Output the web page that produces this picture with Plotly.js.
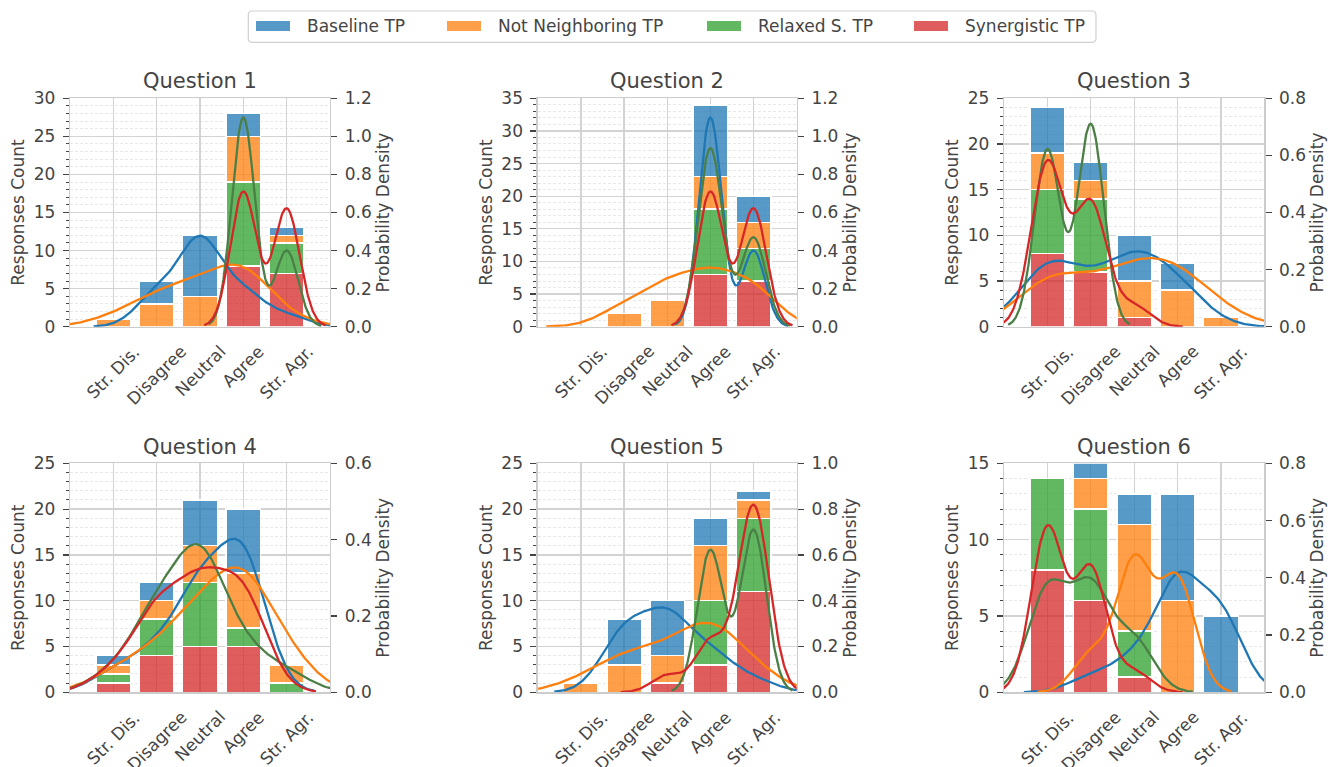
<!DOCTYPE html>
<html><head><meta charset="utf-8">
<script src="https://cdn.plot.ly/plotly-3.0.1.min.js"></script>
<style>html,body{margin:0;padding:0;background:#fff}#chart{width:1341px;height:767px}</style>
</head><body><div id="chart"></div>
<script>
// ---------------- data ----------------
const categories = ['Str. Dis.', 'Disagree', 'Neutral', 'Agree', 'Str. Agr.'];
const questionTitles = ['Question 1', 'Question 2', 'Question 3', 'Question 4', 'Question 5', 'Question 6'];
const seriesNames = ['Baseline TP', 'Not Neighboring TP', 'Relaxed S. TP', 'Synergistic TP'];
// response counts per category (Str. Dis. .. Str. Agr.), one row per question
const baselineTP       = [[0,3,8,3,1],[0,0,0,11,4],[5,2,5,3,0],[1,2,5,7,0],[0,5,6,3,1],[0,1,2,7,5]];
const notNeighboringTP = [[1,3,4,6,1],[0,2,4,5,4],[4,2,4,4,1],[1,2,4,6,2],[1,3,3,6,2],[0,2,7,6,0]];
const relaxedSTP       = [[0,0,0,11,4],[0,0,0,10,5],[7,8,0,0,0],[1,4,7,2,1],[0,0,0,7,8],[6,6,3,0,0]];
const synergisticTP    = [[0,0,0,8,7],[0,0,0,8,7],[8,6,1,0,0],[1,4,5,5,0],[0,0,1,3,11],[8,6,1,0,0]];
const countAxisMax   = [30, 35, 25, 25, 25, 15];
const densityAxisMax = [1.2, 1.2, 0.8, 0.6, 1.0, 0.8];

// ---------------- style / layout constants ----------------
const W = 1341, H = 767;
const FONT = 'DejaVu Sans, sans-serif';
const TXT = '#444444';
const barColors  = ['rgba(31,119,180,0.75)', 'rgba(255,127,14,0.75)', 'rgba(44,160,44,0.75)', 'rgba(214,39,40,0.75)'];
const lineColors = ['#1f77b4', '#ff7f0e', '#4c7f46', '#d62728'];
const colLeft  = [70, 537.7, 1004];
const colRight = [330, 796.7, 1264.3];
const rowTop    = [98.3, 463.3];
const rowBottom = [326.7, 692.3];
const titleCenterY = [80.7, 446.7];
const groups = [baselineTP, notNeighboringTP, relaxedSTP, synergisticTP];

// Gaussian KDE (Scott's rule, cut = 3) of the responses of one group
function kde(counts) {
  const pts = [];
  counts.forEach((c, i) => { for (let k = 0; k < c; k++) pts.push(i); });
  const n = pts.length;
  const mean = pts.reduce((a, b) => a + b, 0) / n;
  const v = pts.reduce((a, b) => a + (b - mean) * (b - mean), 0) / (n - 1);
  const bw = Math.sqrt(v) * Math.pow(n, -0.2);
  const lo = Math.min(...pts) - 3 * bw, hi = Math.max(...pts) + 3 * bw;
  const xs = [], ys = [];
  for (let j = 0; j < 200; j++) {
    const x = lo + (hi - lo) * j / 199;
    let s = 0;
    for (const p of pts) s += Math.exp(-0.5 * ((x - p) / bw) ** 2);
    xs.push(x); ys.push(s / (n * bw * Math.sqrt(2 * Math.PI)));
  }
  return { xs, ys };
}

const traces = [];
const layout = {
  width: W, height: H, margin: { l: 0, r: 0, t: 0, b: 0, autoexpand: false },
  paper_bgcolor: '#fff', plot_bgcolor: '#fff',
  barmode: 'stack', showlegend: false,
  font: { family: FONT, color: TXT, size: 17 },
  annotations: [], shapes: []
};
const xIdx = categories.map((_, i) => i);

for (let q = 0; q < 6; q++) {
  const row = Math.floor(q / 3), col = q % 3;
  const s = q === 0 ? '' : String(q + 1);
  const s2 = String(q + 7);
  const xa = 'x' + s, ya = 'y' + s, ya2 = 'y' + s2;

  // stacked bars: Synergistic bottom ... Baseline top
  for (let g = 3; g >= 0; g--) {
    traces.push({
      type: 'bar', x: xIdx, y: groups[g][q], name: seriesNames[g],
      xaxis: xa, yaxis: ya, width: 0.8,
      marker: { color: barColors[g], line: { color: '#ffffff', width: 1.5 } },
      showlegend: false, hoverinfo: 'skip'
    });
  }
  // KDE lines
  for (let g = 0; g < 4; g++) {
    const k = kde(groups[g][q]);
    traces.push({
      type: 'scatter', mode: 'lines', x: k.xs, y: k.ys, name: seriesNames[g],
      xaxis: xa, yaxis: ya2, line: { color: lineColors[g], width: 2.3 },
      showlegend: false, hoverinfo: 'skip'
    });
  }

  const xd = [colLeft[col] / W, colRight[col] / W];
  const yd = [1 - rowBottom[row] / H, 1 - rowTop[row] / H];
  layout['xaxis' + s] = {
    domain: xd, anchor: ya, range: [-1, 5], tickvals: xIdx, showticklabels: false, ticks: '',
    showgrid: true, gridcolor: '#d3d3d3', gridwidth: 1.3,
    showline: true, linecolor: '#cccccc', linewidth: 1.3, mirror: true, zeroline: false, fixedrange: true
  };
  layout['yaxis' + s] = {
    domain: yd, anchor: xa, range: [0, countAxisMax[q]], tick0: 0, dtick: 5,
    ticks: 'outside', ticklen: 6, tickwidth: 1.2, tickcolor: TXT, ticklabelstandoff: 4,
    tickfont: { size: 17, color: TXT },
    showgrid: true, gridcolor: '#d3d3d3', gridwidth: 1.3,
    showline: true, linecolor: '#cccccc', linewidth: 1.3, zeroline: false,
    minor: { dtick: 1, tick0: 0, ticks: 'outside', ticklen: 3, tickwidth: 1, tickcolor: TXT,
             showgrid: true, gridcolor: '#e2e2e2', griddash: '3px,2px', gridwidth: 0.8 },
    title: { text: 'Responses Count', font: { size: 17, color: TXT }, standoff: 4 }
  };
  layout['yaxis' + s2] = {
    overlaying: ya, side: 'right', anchor: xa, range: [0, densityAxisMax[q]], tick0: 0, dtick: 0.2,
    tickformat: '.1f', ticks: 'outside', ticklen: 6, tickwidth: 1.2, tickcolor: TXT, ticklabelstandoff: 4,
    tickfont: { size: 17, color: TXT },
    showgrid: false, zeroline: false, showline: true, linecolor: '#cccccc', linewidth: 1.3,
    title: { text: 'Probability Density', font: { size: 17, color: TXT }, standoff: 6 }
  };

  // subplot title
  layout.annotations.push({
    xref: 'paper', yref: 'paper', x: (xd[0] + xd[1]) / 2, y: 1 - titleCenterY[row] / H,
    xanchor: 'center', yanchor: 'middle', showarrow: false, text: questionTitles[q],
    font: { size: 21, color: TXT }
  });
  // rotated category labels (centered under each tick)
  categories.forEach((c, i) => {
    layout.annotations.push({
      xref: xa, yref: 'paper', x: i, y: 1 - (rowBottom[row] + 12) / H,
      xanchor: 'center', yanchor: 'top', showarrow: false, text: c, textangle: -45,
      font: { size: 17, color: TXT }
    });
  });
}

// ---------------- legend (drawn box) ----------------
const legendBox = { x0: 248.3, x1: 1096, y0: 11, y1: 42.3, r: 4 };
const legendPatchX = [256, 447, 707, 914];
(function () {
  const b = legendBox, rx = b.r / W, ry = b.r / H;
  const X0 = b.x0 / W, X1 = b.x1 / W, Y0 = 1 - b.y0 / H, Y1 = 1 - b.y1 / H;
  const path = `M${X0 + rx},${Y0} L${X1 - rx},${Y0} Q${X1},${Y0} ${X1},${Y0 - ry} L${X1},${Y1 + ry} Q${X1},${Y1} ${X1 - rx},${Y1} L${X0 + rx},${Y1} Q${X0},${Y1} ${X0},${Y1 + ry} L${X0},${Y0 - ry} Q${X0},${Y0} ${X0 + rx},${Y0} Z`;
  layout.shapes.push({ type: 'path', xref: 'paper', yref: 'paper', path, line: { color: '#d0d0d0', width: 1.2 }, fillcolor: 'rgba(255,255,255,0.8)' });
  seriesNames.forEach((nm, g) => {
    const px = legendPatchX[g];
    layout.shapes.push({ type: 'rect', xref: 'paper', yref: 'paper', x0: px / W, x1: (px + 34) / W,
      y0: 1 - 31 / H, y1: 1 - 21 / H, fillcolor: barColors[g], line: { width: 0 } });
    layout.annotations.push({ xref: 'paper', yref: 'paper', x: (px + 49) / W, y: 1 - 26.3 / H,
      xanchor: 'left', yanchor: 'middle', showarrow: false, text: nm, font: { size: 17, color: TXT } });
  });
})();

Plotly.newPlot('chart', traces, layout, { displayModeBar: false, staticPlot: true });
</script></body></html>
